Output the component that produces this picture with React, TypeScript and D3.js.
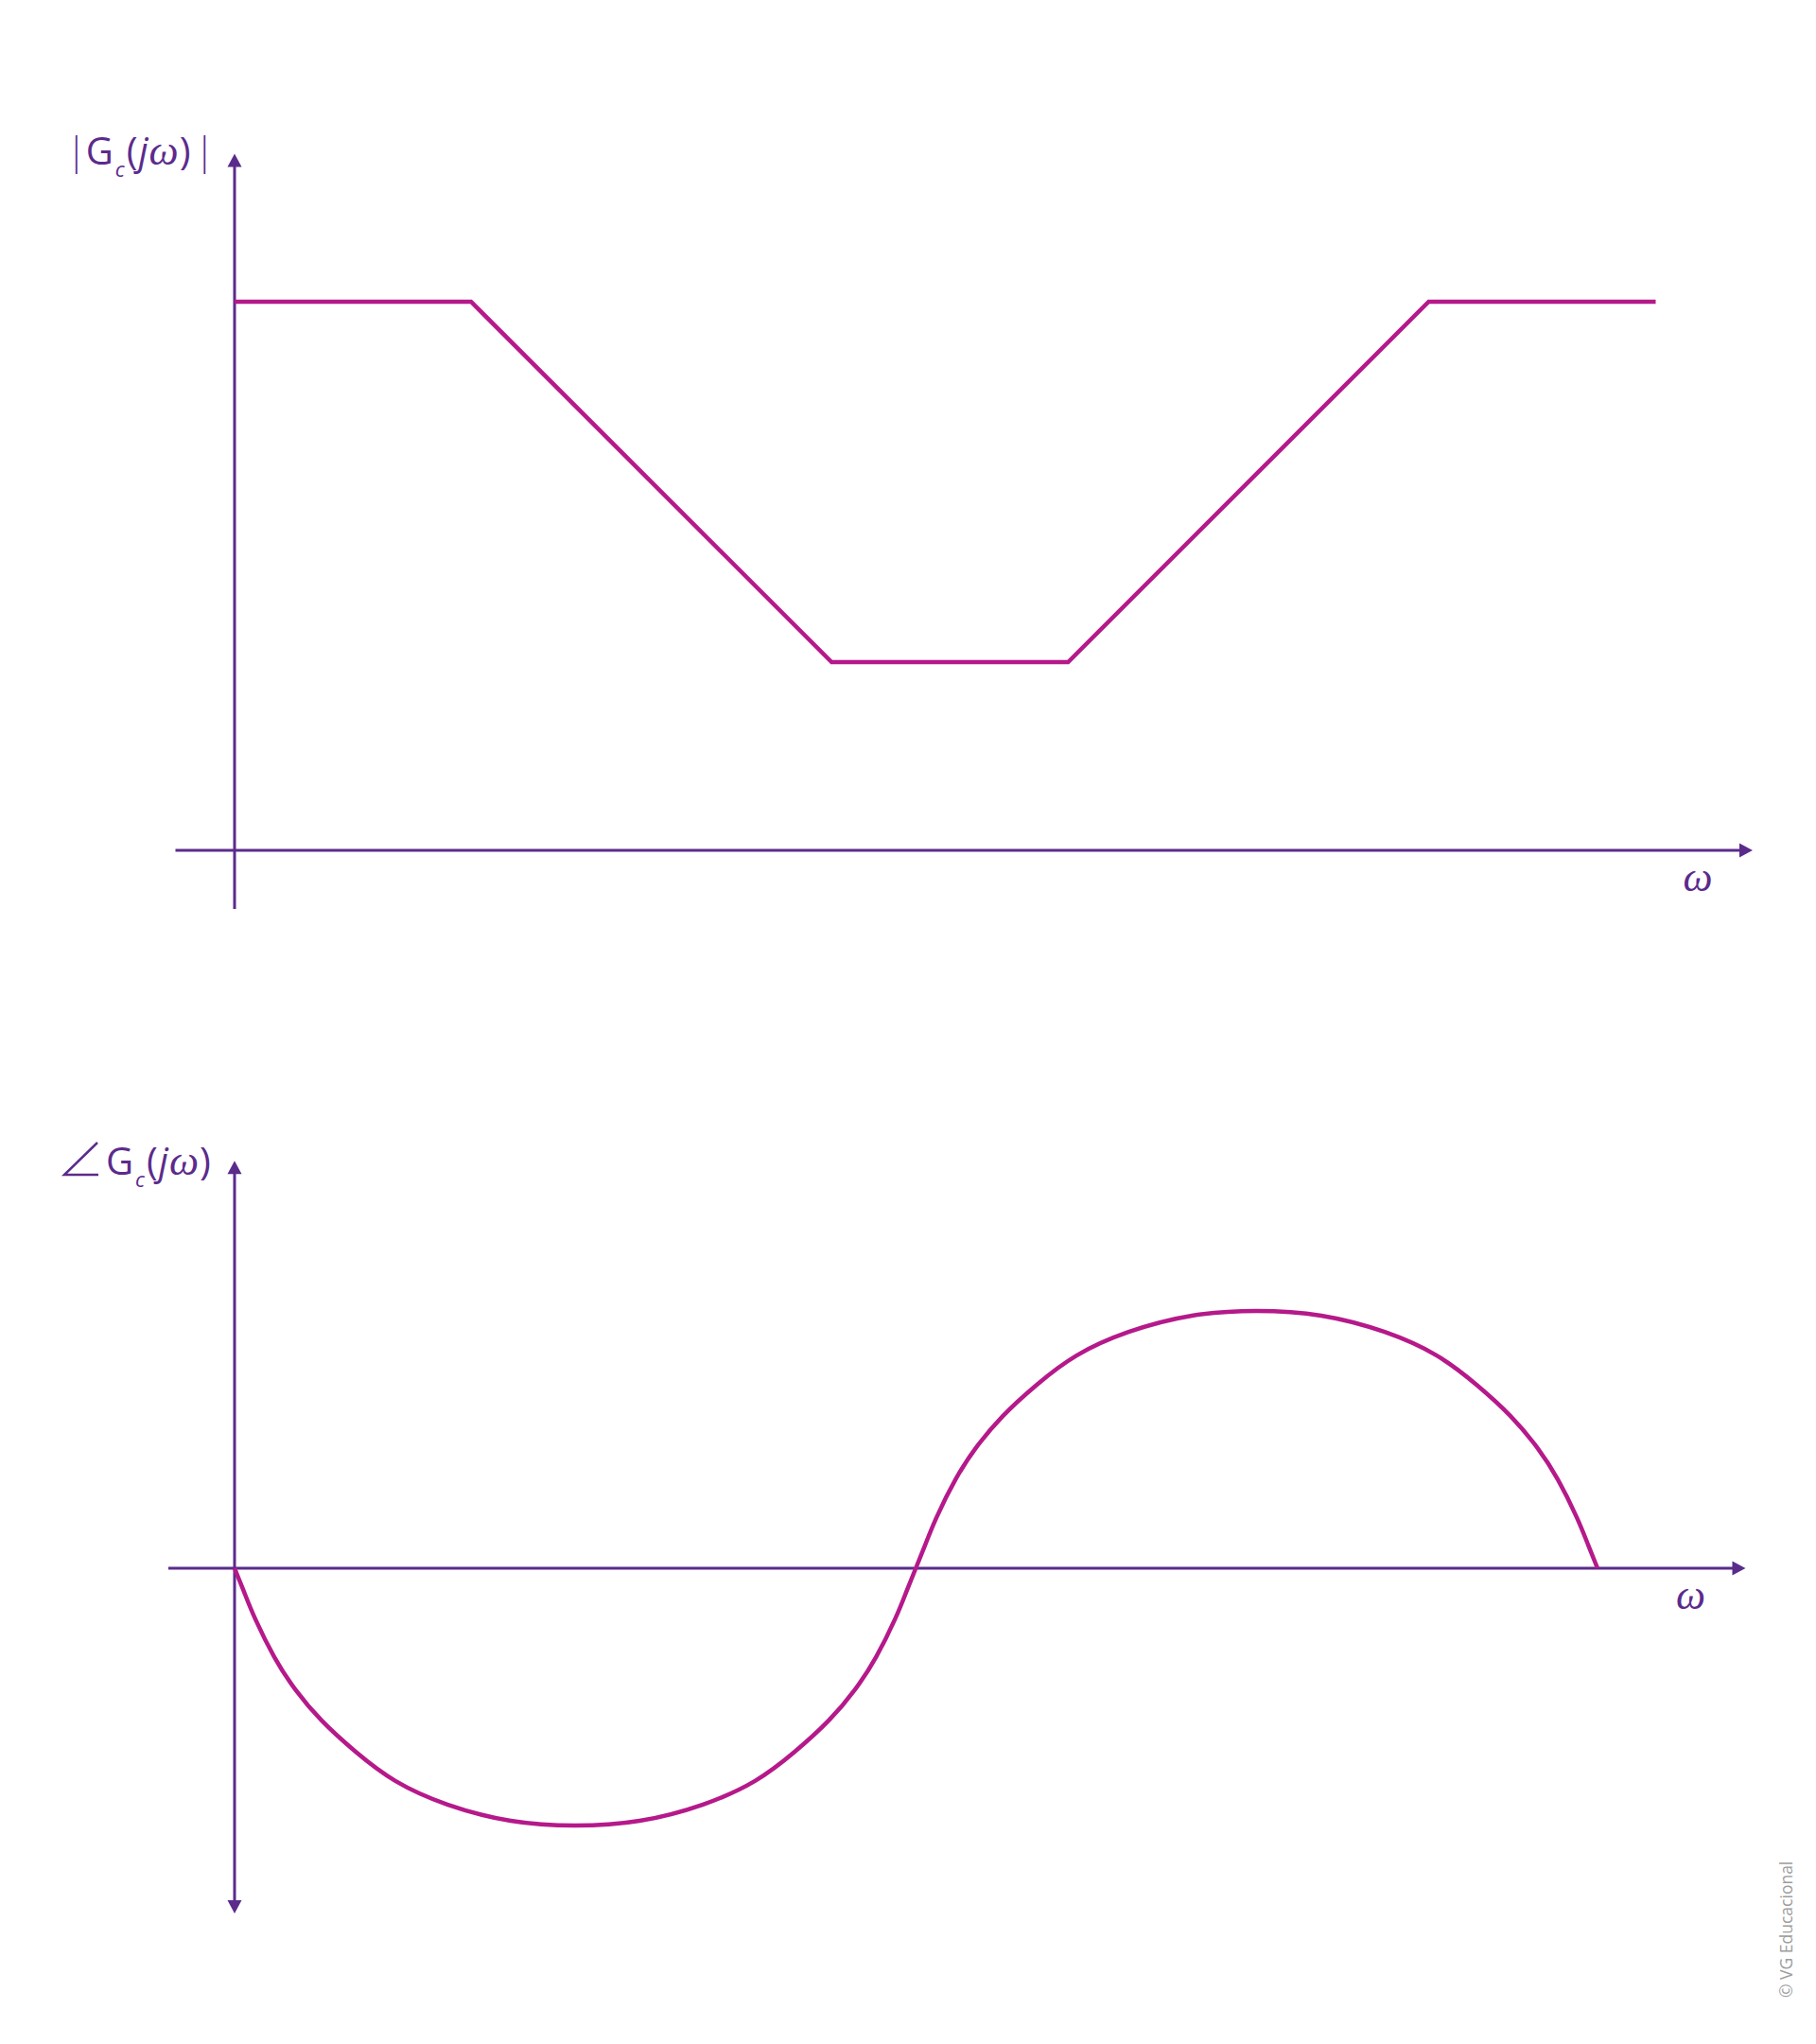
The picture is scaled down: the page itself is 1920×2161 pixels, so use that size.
import React, { useRef, useEffect } from 'react';
import * as d3 from 'd3';

// magnitude asymptotes (omega in arbitrary units, |G| normalised)
const magOmega = [0, 1.0, 2.525, 3.525, 5.05, 6.01];
const magValue = [1, 1, 0.343, 0.343, 1, 1];

// phase curve (degrees)
const phaseOmega = [
  0, 0.04, 0.088, 0.168, 0.256, 0.368, 0.512, 0.68, 0.9, 1.168, 1.44,
  1.713, 1.981, 2.201, 2.369, 2.513, 2.625, 2.713, 2.793, 2.841, 2.881,
  2.921, 2.969, 3.049, 3.137, 3.249, 3.393, 3.561, 3.781, 4.049, 4.321,
  4.596, 4.864, 5.084, 5.252, 5.396, 5.508, 5.596, 5.676, 5.724, 5.764,
];
const phaseValue = [
  0, -5.5, -11.9, -20.7, -28.2, -35.5, -42.8, -49.6, -55.1, -58.9, -60,
  -58.9, -55.1, -49.6, -42.8, -35.5, -28.2, -20.7, -11.9, -5.5, 0,
  5.5, 11.9, 20.7, 28.2, 35.5, 42.8, 49.6, 55.1, 58.9, 60,
  58.9, 55.1, 49.6, 42.8, 35.5, 28.2, 20.7, 11.9, 5.5, 0,
];

// axis extents in data units
const magXAxis = [-0.25, 6.42];
const magYAxis = [-0.107, 1.27];
const phaseXAxis = [-0.28, 6.39];
const phaseYAxis = [-80.5, 95];

const AXIS = '#5b2b8c';
const CURVE = '#b5198a';

const W = 1920;
const H = 2161;

const App: React.FC = () => {
  const svgRef = useRef<SVGSVGElement>(null);

  useEffect(() => {
    if (!svgRef.current) return;
    const svg = d3.select(svgRef.current);
    svg.selectAll('*').remove();

    const x = d3.scaleLinear().domain([0, 6]).range([248, 1748]);
    const yMag = d3.scaleLinear().domain([0, 1]).range([899, 319]);
    const yPh = d3.scaleLinear().domain([-60, 60]).range([1930, 1386]);

    const arrow = (tx: number, ty: number, dir: 'up' | 'down' | 'right') => {
      const len = 14;
      const hw = 7.5;
      let pts: [number, number][];
      if (dir === 'up') pts = [[tx, ty], [tx - hw, ty + len], [tx + hw, ty + len]];
      else if (dir === 'down') pts = [[tx, ty], [tx - hw, ty - len], [tx + hw, ty - len]];
      else pts = [[tx, ty], [tx - len, ty - hw], [tx - len, ty + hw]];
      svg.append('path')
        .attr('d', 'M' + pts.map(p => p.join(',')).join('L') + 'Z')
        .attr('fill', AXIS);
    };

    const drawAxes = (
      y: d3.ScaleLinear<number, number>,
      xExt: number[],
      yExt: number[],
      downArrow: boolean
    ) => {
      const y0 = y(0);
      const x0 = x(0);
      svg.append('line')
        .attr('x1', x(xExt[0])).attr('x2', x(xExt[1]) - 10)
        .attr('y1', y0).attr('y2', y0)
        .attr('stroke', AXIS).attr('stroke-width', 3);
      arrow(x(xExt[1]), y0, 'right');
      svg.append('line')
        .attr('x1', x0).attr('x2', x0)
        .attr('y1', y(yExt[0]) - (downArrow ? 10 : 0)).attr('y2', y(yExt[1]) + 10)
        .attr('stroke', AXIS).attr('stroke-width', 3);
      arrow(x0, y(yExt[1]), 'up');
      if (downArrow) arrow(x0, y(yExt[0]), 'down');

      svg.append('text')
        .attr('x', x(xExt[1]) - 58)
        .attr('y', y0 + 43)
        .attr('text-anchor', 'middle')
        .attr('font-family', '"Liberation Serif", serif')
        .attr('font-style', 'italic')
        .attr('font-size', 44)
        .attr('fill', AXIS)
        .text('ω');
    };

    drawAxes(yMag, magXAxis, magYAxis, false);
    drawAxes(yPh, phaseXAxis, phaseYAxis, true);

    // magnitude
    const magLine = d3.line<number>()
      .x((_, i) => x(magOmega[i]))
      .y((_, i) => yMag(magValue[i]));
    svg.append('path')
      .attr('d', magLine(magValue))
      .attr('fill', 'none')
      .attr('stroke', CURVE)
      .attr('stroke-width', 4.5)
      .attr('stroke-linejoin', 'miter');

    // phase
    const phLine = d3.line<number>()
      .x((_, i) => x(phaseOmega[i]))
      .y((_, i) => yPh(phaseValue[i]))
      .curve(d3.curveNatural);
    svg.append('path')
      .attr('d', phLine(phaseValue))
      .attr('fill', 'none')
      .attr('stroke', CURVE)
      .attr('stroke-width', 4.5);

    // axis titles
    const title = (tx: number, ty: number, bars: boolean) => {
      const t = svg.append('text')
        .attr('x', tx).attr('y', ty)
        .attr('font-family', '"Open Sans", sans-serif')
        .attr('font-size', 40)
        .attr('fill', AXIS);
      if (bars) t.append('tspan').attr('font-weight', 300).text('|');
      t.append('tspan').attr('dx', bars ? -1 : 0).text('G');
      t.append('tspan').attr('font-size', 22).attr('font-style', 'italic').attr('dx', 2).attr('dy', 13).text('c');
      t.append('tspan').attr('dy', -13).attr('dx', 2).text('(');
      t.append('tspan').attr('font-style', 'italic').attr('dx', 1).text('j');
      t.append('tspan').attr('font-family', '"Liberation Serif", serif').attr('font-style', 'italic').attr('font-size', 44).attr('dx', 1).text('ω');
      t.append('tspan').attr('dx', 1).text(')');
      if (bars) t.append('tspan').attr('dx', 4).attr('font-weight', 300).text('|');
    };
    title(70, 174, true);
    title(112, 1242, false);

    // angle sign
    svg.append('path')
      .attr('d', 'M103,1208L68,1242L104,1242')
      .attr('fill', 'none')
      .attr('stroke', AXIS)
      .attr('stroke-width', 2.5);

    svg.append('text')
      .attr('transform', 'translate(1895,2112) rotate(-90)')
      .attr('font-family', '"Open Sans", sans-serif')
      .attr('font-size', 17.5)
      .attr('fill', '#9d9d9d')
      .text('© VG Educacional');
  }, []);

  return (
    <div style={{ position: 'absolute', left: 0, top: 0, width: W, height: H, background: '#fff' }}>
      <svg ref={svgRef} width={W} height={H} style={{ display: 'block' }} />
    </div>
  );
};

export default App;
